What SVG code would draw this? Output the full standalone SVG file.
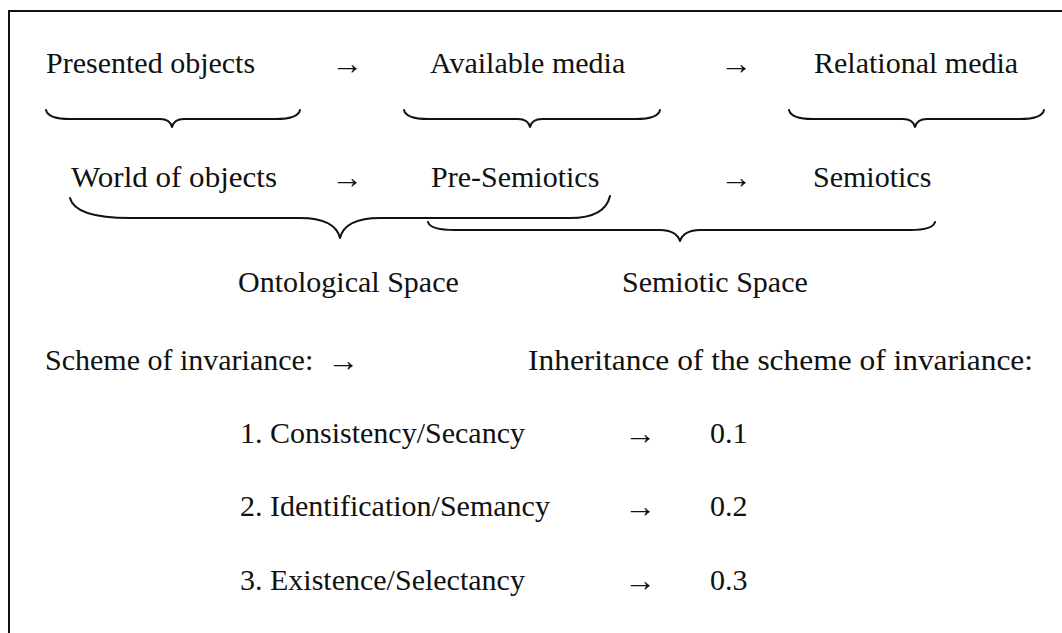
<svg xmlns="http://www.w3.org/2000/svg" width="1062" height="633" viewBox="0 0 1062 633">
<style>
text{font-family:"Liberation Serif","DejaVu Serif",serif;font-size:30px;fill:#111}
.ar{font-size:32px}
.br{fill:none;stroke:#111;stroke-width:2;stroke-linecap:round;stroke-linejoin:round}
.fr{fill:none;stroke:#111;stroke-width:2}
</style>
<rect width="1062" height="633" fill="#fff"/>
<g id="frame"><path class="fr" d="M9 633 V11 H1062"/></g>
<g id="n-presented"><text x="46" y="73">Presented objects</text></g>
<g id="n-available"><text x="430" y="73">Available media</text></g>
<g id="n-relational"><text x="814" y="73">Relational media</text></g>
<g id="n-world"><text x="71" y="187" textLength="206" lengthAdjust="spacingAndGlyphs">World of objects</text></g>
<g id="n-presemiotics"><text x="431" y="187">Pre-Semiotics</text></g>
<g id="n-semiotics"><text x="813" y="187">Semiotics</text></g>
<g id="n-ontological"><text x="238" y="292">Ontological Space</text></g>
<g id="n-semioticspace"><text x="622" y="292">Semiotic Space</text></g>
<g id="n-scheme"><text x="45" y="370">Scheme of invariance:</text></g>
<g id="n-inheritance"><text x="528" y="370" textLength="505" lengthAdjust="spacingAndGlyphs">Inheritance of the scheme of invariance:</text></g>
<g id="n-c1"><text x="240" y="443">1. Consistency/Secancy</text></g>
<g id="n-c2"><text x="240" y="516">2. Identification/Semancy</text></g>
<g id="n-c3"><text x="240" y="590">3. Existence/Selectancy</text></g>
<g id="n-v1"><text x="710" y="443">0.1</text></g>
<g id="n-v2"><text x="710" y="516">0.2</text></g>
<g id="n-v3"><text x="710" y="590">0.3</text></g>
<g id="connectors">
<text class="ar" x="331" y="74">→</text>
<text class="ar" x="720" y="74">→</text>
<text class="ar" x="331" y="188">→</text>
<text class="ar" x="720" y="188">→</text>
<text class="ar" x="327" y="371">→</text>
<text class="ar" x="624" y="444">→</text>
<text class="ar" x="624" y="517">→</text>
<text class="ar" x="624" y="591">→</text>
<path class="br" d="M46 110 Q48 119 70 119 L160 119 Q170 119 172 127 Q174 119 184 119 L276 119 Q298 119 300 110"/>
<path class="br" d="M404 110 Q406 119 428 119 L518 119 Q528 119 530 127 Q532 119 542 119 L636 119 Q658 119 660 110"/>
<path class="br" d="M789 110 Q791 119 813 119 L903 119 Q913 119 915 127 Q917 119 927 119 L1020 119 Q1042 119 1044 110"/>
<path class="br" d="M70 198 Q75 218 130 218 L300 218 Q335 218 340 238 Q345 218 380 218 L570 218 Q605 218 610 196"/>
<path class="br" d="M428 222 Q430 230 455 230 L660 230 Q676 230 680 241 Q684 230 700 230 L910 230 Q933 230 935 222"/>
</g>
</svg>
